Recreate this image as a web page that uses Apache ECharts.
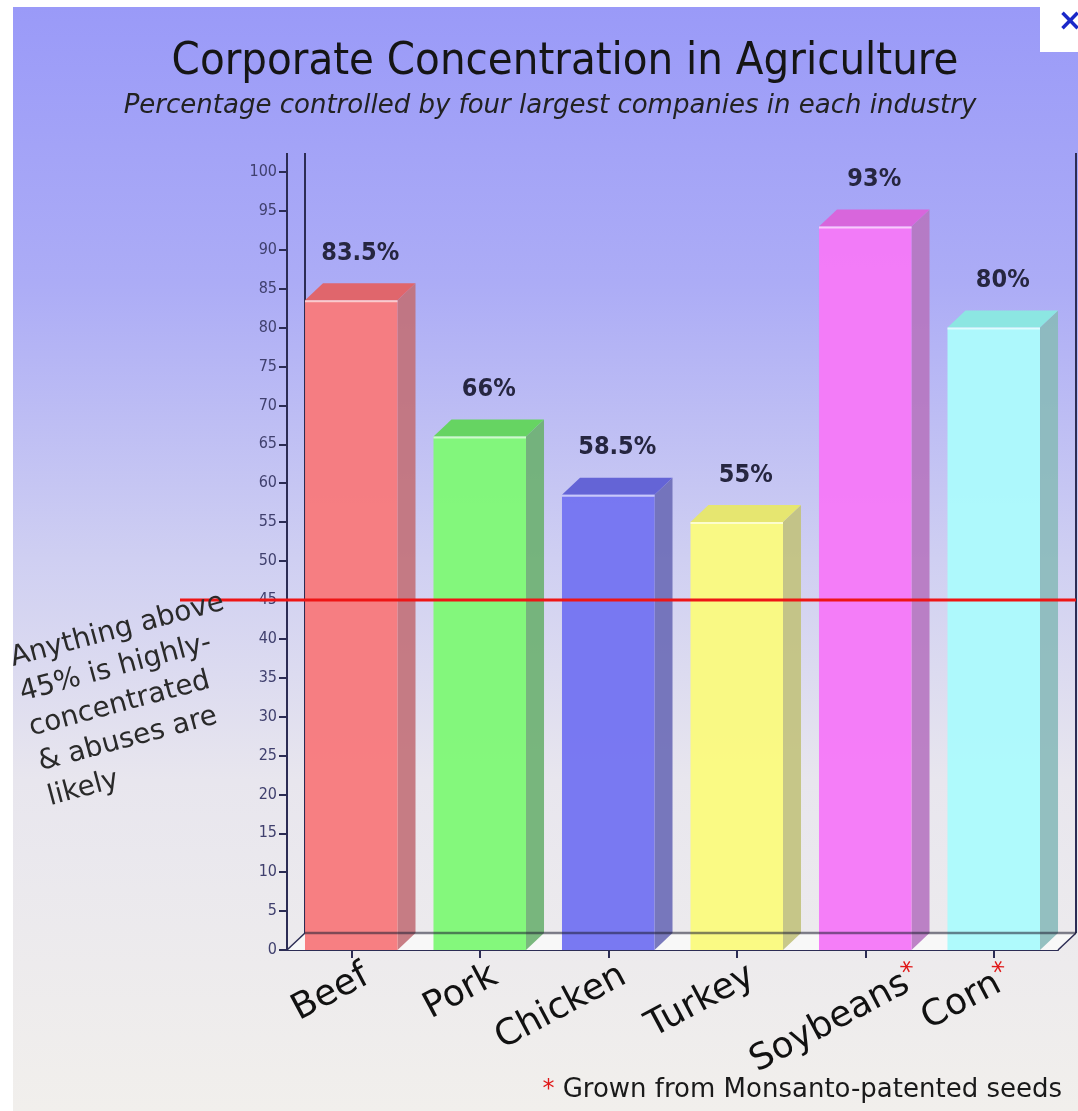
<!DOCTYPE html>
<html>
<head>
<meta charset="utf-8">
<title>Corporate Concentration in Agriculture</title>
<script src="https://cdn.jsdelivr.net/npm/echarts@6/dist/echarts.min.js"></script>
<style>
  html, body { margin: 0; padding: 0; background: #ffffff; }
  #chart { width: 1078px; height: 1111px; }
</style>
</head>
<body>
<div id="chart"></div>
<script>
  // data
  const categories = ['Beef', 'Pork', 'Chicken', 'Turkey', 'Soybeans', 'Corn'];
  const shares = [83.5, 66, 58.5, 55, 93, 80];
  const monsantoSeeds = [false, false, false, false, true, true];
  const yMin = 0;
  const yMax = 100;
  const yStep = 5;
  const threshold = 45;

  // bar faces: front, top, side
  const frontColors = ['#f77b7e', '#80f878', '#7575f2', '#fafa80', '#f57af8', '#acfafc'];
  const topColors = ['#e0666c', '#66d462', '#6464d6', '#e6e670', '#d866dc', '#8ce6e2'];
  const sideColors = ['#c27078', '#6cb070', '#6a6ab6', '#c2c27c', '#b676c0', '#8ababa'];
  // small horizontal nudge of each slanted name (layout only)
  const labelNudge = [0, 0, 0, 0, 37, 0];

  const DX = 18, DY = -17;   // 3d depth
  const CONDENSED = '"DejaVu Sans Condensed", "DejaVu Sans", sans-serif';
  const SANS = '"DejaVu Sans", sans-serif';
  const LABEL_ROT = 28 * Math.PI / 180;

  let chart = echarts.init(document.getElementById('chart'));

  function renderBar(params, api) {
    let idx = api.value(0);
    let v = api.value(1);
    let top = api.coord([idx, v]);
    let base = api.coord([idx, 0]);
    let bw = api.size([1, 0])[0] * 0.72;
    let l = top[0] - bw / 2, r = top[0] + bw / 2;
    let name = categories[idx] + (monsantoSeeds[idx] ? '{r|*}' : '');
    return {
      type: 'group',
      children: [
        {
          type: 'polygon',
          shape: {points: [[r, top[1]], [r + DX, top[1] + DY], [r + DX, base[1] + DY], [r, base[1]]]},
          style: {fill: sideColors[idx], opacity: 0.9}
        },
        {
          type: 'polygon',
          shape: {points: [[l, top[1]], [l + DX, top[1] + DY], [r + DX, top[1] + DY], [r, top[1]]]},
          style: {fill: topColors[idx]}
        },
        {
          type: 'rect',
          shape: {x: l, y: top[1], width: bw, height: base[1] - top[1]},
          style: {fill: frontColors[idx], opacity: 0.97}
        },
        {
          type: 'line',
          shape: {x1: l, y1: top[1] + 1, x2: r, y2: top[1] + 1},
          style: {stroke: 'rgba(255,255,255,0.6)', lineWidth: 2}
        },
        {
          type: 'text',
          x: top[0] + 9,
          y: top[1] + DY - 30,
          style: {
            text: v + '%',
            fill: '#262640',
            font: 'bold 25px ' + CONDENSED,
            align: 'center',
            verticalAlign: 'middle'
          }
        },
        {
          // category name, slanted under its tick
          type: 'text',
          x: top[0] + 7 + labelNudge[idx],
          y: base[1] + 8,
          rotation: LABEL_ROT,
          style: {
            text: name,
            fill: '#111111',
            font: '36px ' + SANS,
            align: 'right',
            verticalAlign: 'top',
            rich: {r: {fill: '#e01818', font: '26px ' + SANS, verticalAlign: 'top', padding: [0, 0, 14, 0]}}
          }
        }
      ]
    };
  }

  // floor and back walls, behind the bars
  function renderFrame(params, api) {
    let cs = params.coordSys;
    let x0 = cs.x, x1 = cs.x + cs.width, yb = cs.y + cs.height;
    let yTop = cs.y - 19;
    return {
      type: 'group',
      children: [
        {
          type: 'polygon',
          shape: {points: [[x0, yb], [x0 + DX, yb + DY], [x1 + DX, yb + DY], [x1, yb]]},
          style: {fill: '#f8f8f8'}
        },
        {
          type: 'line',
          shape: {x1: x0 + DX, y1: yTop, x2: x0 + DX, y2: yb + DY},
          style: {stroke: '#2c2c54', lineWidth: 2}
        },
        {
          type: 'line',
          shape: {x1: x1 + DX, y1: yTop, x2: x1 + DX, y2: yb + DY},
          style: {stroke: '#2c2c54', lineWidth: 2}
        },
        {
          type: 'line',
          shape: {x1: x0, y1: yTop, x2: x0, y2: yb},
          style: {stroke: '#2c2c54', lineWidth: 2}
        },
        {
          type: 'line',
          shape: {x1: x0, y1: yb, x2: x0 + DX, y2: yb + DY},
          style: {stroke: '#2c2c54', lineWidth: 1.5}
        },
        {
          type: 'line',
          shape: {x1: x1, y1: yb, x2: x1 + DX, y2: yb + DY},
          style: {stroke: '#2c2c54', lineWidth: 1.5}
        }
      ]
    };
  }

  // lines that show through the bars
  function renderOverlay(params, api) {
    let cs = params.coordSys;
    let x0 = cs.x, x1 = cs.x + cs.width, yb = cs.y + cs.height;
    let yT = api.coord([0, threshold])[1];
    return {
      type: 'group',
      children: [
        {
          type: 'line',
          shape: {x1: x0 + DX, y1: yb + DY, x2: x1 + DX, y2: yb + DY},
          style: {stroke: 'rgba(30,30,50,0.55)', lineWidth: 2.5}
        },
        {
          type: 'line',
          shape: {x1: 180, y1: yT, x2: x1 + DX, y2: yT},
          style: {stroke: '#ee1515', lineWidth: 3}
        }
      ]
    };
  }

  const noteLines = ['Anything above', '45% is highly-', 'concentrated', '& abuses are', 'likely'];
  const noteAngle = 15 * Math.PI / 180;
  let noteTexts = noteLines.map((line, k) => ({
    type: 'text',
    x: 11 + k * 36 * Math.sin(noteAngle),
    y: 659 + k * 36 * Math.cos(noteAngle),
    rotation: noteAngle,
    z: 20,
    style: {text: line, fill: '#2a2a2a', font: '28px ' + SANS, align: 'left', verticalAlign: 'middle'}
  }));

  chart.setOption({
    animation: false,
    graphic: [
      {
        type: 'rect',
        z: -10,
        shape: {x: 13, y: 7, width: 1065, height: 1104},
        style: {
          fill: new echarts.graphic.LinearGradient(0, 0, 0, 1, [
            {offset: 0, color: '#9a9af8'},
            {offset: 0.25, color: '#acacf6'},
            {offset: 0.5, color: '#cfcff2'},
            {offset: 0.7, color: '#e8e6ee'},
            {offset: 1, color: '#f1efec'}
          ])
        }
      },
      {
        type: 'rect',
        z: -5,
        shape: {x: 1040, y: 0, width: 38, height: 52},
        style: {fill: '#ffffff'}
      },
      {
        type: 'text',
        x: 1070, y: 22, z: 20,
        style: {text: '×', fill: '#1a28c8', font: 'bold 30px ' + SANS, align: 'center', verticalAlign: 'middle'}
      },
      {
        type: 'text',
        x: 565, y: 62, z: 20,
        style: {
          text: 'Corporate Concentration in Agriculture',
          fill: '#151515', font: '45px ' + CONDENSED, align: 'center', verticalAlign: 'middle'
        }
      },
      {
        type: 'text',
        x: 550, y: 106, z: 20,
        style: {
          text: 'Percentage controlled by four largest companies in each industry',
          fill: '#222222', font: 'italic 26px ' + SANS, align: 'center', verticalAlign: 'middle'
        }
      },
      ...noteTexts,
      {
        type: 'text',
        x: 1062, y: 1090, z: 20,
        style: {
          text: '{r|*} Grown from Monsanto-patented seeds',
          fill: '#1a1a1a', font: '26px ' + SANS, align: 'right', verticalAlign: 'middle',
          rich: {r: {fill: '#e01818', font: '24px ' + SANS}}
        }
      }
    ],
    grid: {left: 287, right: 20, top: 172, bottom: 161, containLabel: false},
    xAxis: {
      type: 'category',
      data: categories,
      axisLine: {show: true, lineStyle: {color: '#2c2c54', width: 2}},
      axisTick: {show: true, alignWithLabel: true, length: 8, lineStyle: {color: '#2c2c54', width: 2}},
      axisLabel: {show: false},
      splitLine: {show: false}
    },
    yAxis: {
      type: 'value',
      min: yMin,
      max: yMax,
      interval: yStep,
      axisLine: {show: true, lineStyle: {color: '#2c2c54', width: 2}},
      axisTick: {show: true, length: 8, lineStyle: {color: '#2c2c54', width: 2}},
      axisLabel: {color: '#40406e', fontFamily: CONDENSED, fontSize: 16, margin: 10},
      splitLine: {show: false}
    },
    series: [
      {
        name: 'frame',
        type: 'custom',
        z: 1,
        renderItem: renderFrame,
        data: [[0, 0]],
        encode: {x: 0, y: 1},
        silent: true
      },
      {
        name: 'share',
        type: 'custom',
        z: 2,
        renderItem: renderBar,
        data: shares.map((v, i) => [i, v]),
        encode: {x: 0, y: 1}
      },
      {
        name: 'overlay',
        type: 'custom',
        z: 3,
        renderItem: renderOverlay,
        data: [[0, threshold]],
        encode: {x: 0, y: 1},
        silent: true
      }
    ]
  });
</script>
</body>
</html>
